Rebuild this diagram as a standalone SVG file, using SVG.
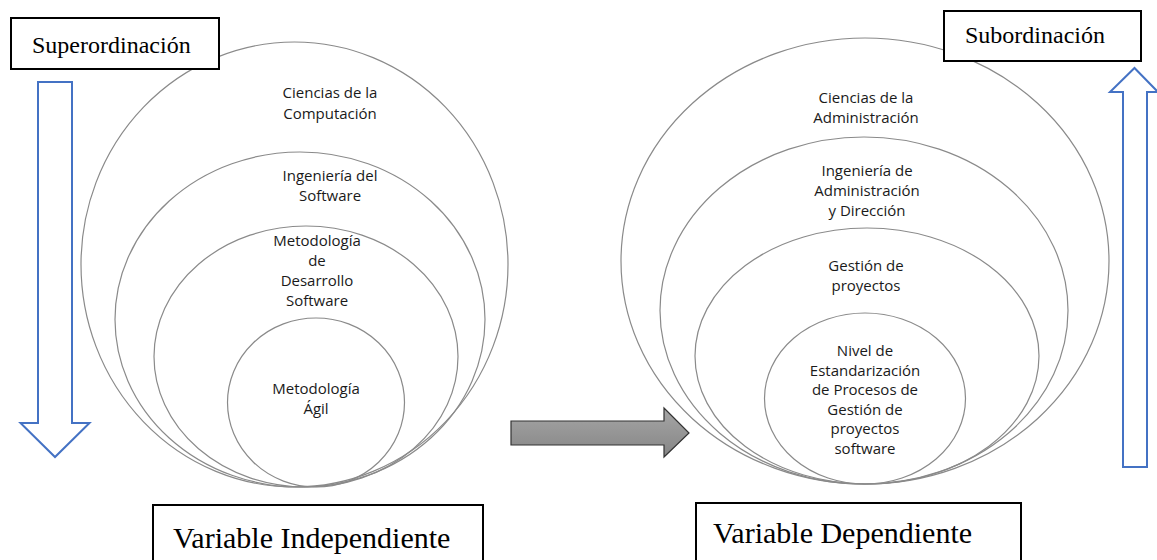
<svg xmlns="http://www.w3.org/2000/svg" width="1157" height="560" viewBox="0 0 1157 560">
  <style>
    .ring { fill: none; stroke: #8a8a8a; stroke-width: 1.2; }
    .lbl { font-family: "Open Sans", "Noto Sans", sans-serif; font-size: 15px; fill: #1a1a1a; text-anchor: middle; }
    .box { fill: #ffffff; stroke: #000000; stroke-width: 2; }
    .boxtxt { font-family: "Liberation Serif", "Times New Roman", serif; fill: #000000; }
    .blue { fill: #ffffff; stroke: #4472c4; stroke-width: 2; stroke-linejoin: miter; }
  </style>
  <defs>
    <linearGradient id="grayFill" x1="0" y1="0" x2="0" y2="1">
      <stop offset="0" stop-color="#a6a6a6"/>
      <stop offset="1" stop-color="#858585"/>
    </linearGradient>
  </defs>
  <rect width="1157" height="560" fill="#ffffff"/>

  <!-- Independent variable: nested sets -->
  <g id="ciencias-computacion">
    <ellipse class="ring" cx="294.5" cy="264.5" rx="213.5" ry="222.5"/>
    <text class="lbl" x="330" y="98">Ciencias de la</text>
    <text class="lbl" x="330" y="119">Computación</text>
  </g>
  <g id="ingenieria-software">
    <ellipse class="ring" cx="300" cy="319.5" rx="185" ry="167.5"/>
    <text class="lbl" x="330" y="181">Ingeniería del</text>
    <text class="lbl" x="330" y="201">Software</text>
  </g>
  <g id="metodologia-desarrollo">
    <ellipse class="ring" cx="306" cy="356.5" rx="152" ry="130.5"/>
    <text class="lbl" x="317" y="246">Metodología</text>
    <text class="lbl" x="317" y="266">de</text>
    <text class="lbl" x="317" y="286">Desarrollo</text>
    <text class="lbl" x="317" y="306">Software</text>
  </g>
  <g id="metodologia-agil">
    <ellipse class="ring" cx="316" cy="402.5" rx="88.5" ry="84.5"/>
    <text class="lbl" x="316" y="394">Metodología</text>
    <text class="lbl" x="316" y="414">Ágil</text>
  </g>

  <!-- Dependent variable: nested sets -->
  <g id="ciencias-administracion">
    <ellipse class="ring" cx="865" cy="261" rx="244" ry="223"/>
    <text class="lbl" x="866" y="103">Ciencias de la</text>
    <text class="lbl" x="866" y="123">Administración</text>
  </g>
  <g id="ingenieria-administracion">
    <ellipse class="ring" cx="864" cy="310.5" rx="204" ry="173.5"/>
    <text class="lbl" x="867" y="176">Ingeniería de</text>
    <text class="lbl" x="867" y="196">Administración</text>
    <text class="lbl" x="867" y="216">y Dirección</text>
  </g>
  <g id="gestion-proyectos">
    <ellipse class="ring" cx="867" cy="356" rx="172" ry="128"/>
    <text class="lbl" x="866" y="271">Gestión de</text>
    <text class="lbl" x="866" y="291">proyectos</text>
  </g>
  <g id="nivel-estandarizacion">
    <ellipse class="ring" cx="865" cy="398.5" rx="100.5" ry="85.5"/>
    <text class="lbl" x="865" y="356">Nivel de</text>
    <text class="lbl" x="865" y="375.6">Estandarización</text>
    <text class="lbl" x="865" y="395.2">de Procesos de</text>
    <text class="lbl" x="865" y="414.8">Gestión de</text>
    <text class="lbl" x="865" y="434.4">proyectos</text>
    <text class="lbl" x="865" y="454">software</text>
  </g>

  <!-- Labels -->
  <g id="superordinacion">
    <rect class="box" x="11" y="18" width="208" height="51"/>
    <text class="boxtxt" x="32" y="53" font-size="24">Superordinación</text>
  </g>
  <g id="subordinacion">
    <rect class="box" x="944" y="11" width="197" height="50"/>
    <text class="boxtxt" x="965" y="43" font-size="24">Subordinación</text>
  </g>
  <g id="variable-independiente">
    <rect class="box" x="153" y="505" width="330" height="60"/>
    <text class="boxtxt" x="173" y="548" font-size="30">Variable Independiente</text>
  </g>
  <g id="variable-dependiente">
    <rect class="box" x="696" y="503" width="325" height="62"/>
    <text class="boxtxt" x="713" y="543" font-size="30">Variable Dependiente</text>
  </g>

  <!-- Connectors -->
  <g id="connectors">
    <path class="blue" d="M38,82 H72 V423 H89.5 L55,457 L20.5,423 H38 Z"/>
    <path class="blue" d="M1123,467 H1147 V92 H1158 L1134.5,68 L1110,92 H1123 Z"/>
    <path d="M511,421 H664 V408 L689,433 L664,457 V445 H511 Z" fill="url(#grayFill)" stroke="#333333" stroke-width="1.2"/>
  </g>
</svg>
